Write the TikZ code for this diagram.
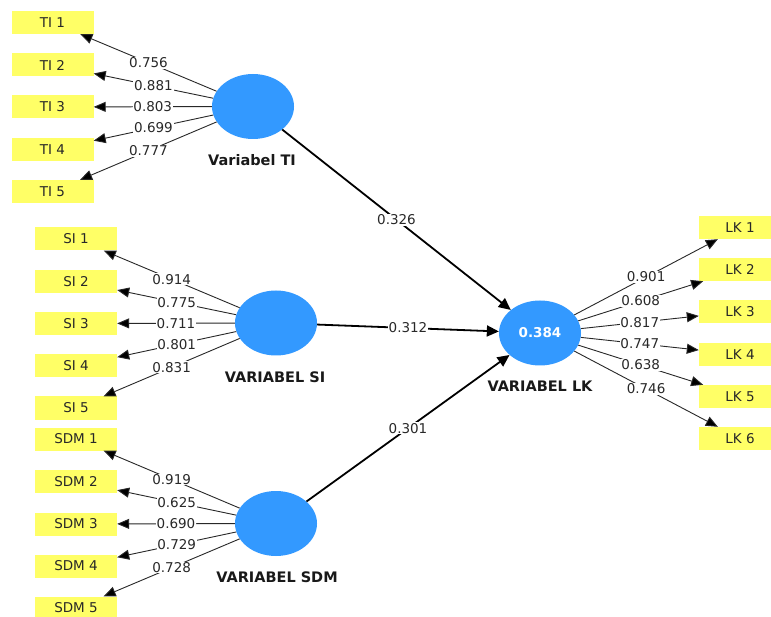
\documentclass[tikz,border=0pt]{standalone}
\usepackage{fontspec}
\setmainfont{DejaVu Sans}
\usetikzlibrary{shapes.geometric,arrows.meta}
\definecolor{latblue}{RGB}{51,153,255}
\definecolor{indyel}{RGB}{255,255,102}
\definecolor{txt}{RGB}{40,40,40}
\begin{document}
\begin{tikzpicture}[x=1pt,y=-1pt,
  ind/.style={rectangle, fill=indyel, minimum width=82pt, minimum height=23pt, inner sep=0pt, font=\fontsize{13.5}{15}\selectfont, text=txt},
  lat/.style={ellipse, fill=latblue, minimum width=82pt, minimum height=65pt, inner sep=0pt},
  latlbl/.style={font=\bfseries\fontsize{14.5}{16}\selectfont, text=black!90},
  load/.style={draw=txt, line width=0.9pt, -{Triangle[length=12pt,width=10pt,fill=black]}},
  struct/.style={draw=black, line width=1.8pt, -{Triangle[length=12pt,width=11pt]}},
  wlbl/.style={fill=white, inner sep=0.8pt, font=\fontsize{13.5}{15}\selectfont, text=txt}]
\fill[white] (0,0) rectangle (771,617);
\useasboundingbox (0,0) rectangle (771,617);
\clip (0,0) rectangle (771,617);

% latent variables
\node[lat] (ti) at (253,106.5) {};
\node[latlbl] (tilbl) at (252,160) {Variabel TI};
\node[lat] (si) at (276,323) {};
\node[latlbl] (silbl) at (275,377) {VARIABEL SI};
\node[lat] (sdm) at (276,523.5) {};
\node[latlbl] (sdmlbl) at (277,577) {VARIABEL SDM};
\node[lat, font=\bfseries\fontsize{13.5}{15}\selectfont, text=white] (lk) at (540,333) {0.384};
\node[latlbl] (lklbl) at (540,386) {VARIABEL LK};

% TI indicators
\node[ind] (ti1) at (52.5,22.5) {TI 1};
\node[ind] (ti2) at (52.5,65) {TI 2};
\node[ind] (ti3) at (52.5,107) {TI 3};
\node[ind] (ti4) at (52.5,149.5) {TI 4};
\node[ind] (ti5) at (52.5,191.5) {TI 5};
% SI indicators
\node[ind] (si1) at (76,239) {SI 1};
\node[ind] (si2) at (76,281.5) {SI 2};
\node[ind] (si3) at (76,323.5) {SI 3};
\node[ind] (si4) at (76,366) {SI 4};
\node[ind] (si5) at (76,408) {SI 5};
% SDM indicators
\node[ind] (sdm1) at (76,439) {SDM 1};
\node[ind] (sdm2) at (76,481.5) {SDM 2};
\node[ind] (sdm3) at (76,524) {SDM 3};
\node[ind] (sdm4) at (76,566) {SDM 4};
\node[ind] (sdm5) at (76,608) {SDM 5};
% LK indicators
\node[ind] (lk1) at (740,227.5) {LK 1};
\node[ind] (lk2) at (740,269.5) {LK 2};
\node[ind] (lk3) at (740,311.5) {LK 3};
\node[ind] (lk4) at (740,354.5) {LK 4};
\node[ind] (lk5) at (740,396.5) {LK 5};
\node[ind] (lk6) at (740,438.5) {LK 6};

% loadings
\draw[load] (ti) -- node[wlbl]{0.756} (ti1);
\draw[load] (ti) -- node[wlbl]{0.881} (ti2);
\draw[load] (ti) -- node[wlbl]{0.803} (ti3);
\draw[load] (ti) -- node[wlbl]{0.699} (ti4);
\draw[load] (ti) -- node[wlbl]{0.777} (ti5);

\draw[load] (si) -- node[wlbl]{0.914} (si1);
\draw[load] (si) -- node[wlbl]{0.775} (si2);
\draw[load] (si) -- node[wlbl]{0.711} (si3);
\draw[load] (si) -- node[wlbl]{0.801} (si4);
\draw[load] (si) -- node[wlbl]{0.831} (si5);

\draw[load] (sdm) -- node[wlbl]{0.919} (sdm1);
\draw[load] (sdm) -- node[wlbl]{0.625} (sdm2);
\draw[load] (sdm) -- node[wlbl]{0.690} (sdm3);
\draw[load] (sdm) -- node[wlbl]{0.729} (sdm4);
\draw[load] (sdm) -- node[wlbl]{0.728} (sdm5);

\draw[load] (lk) -- node[wlbl]{0.901} (lk1);
\draw[load] (lk) -- node[wlbl]{0.608} (lk2);
\draw[load] (lk) -- node[wlbl]{0.817} (lk3);
\draw[load] (lk) -- node[wlbl]{0.747} (lk4);
\draw[load] (lk) -- node[wlbl]{0.638} (lk5);
\draw[load] (lk) -- node[wlbl]{0.746} (lk6);

% structural paths
\draw[struct] (ti) -- node[wlbl]{0.326} (lk);
\draw[struct] (si) -- node[wlbl]{0.312} (lk);
\draw[struct] (sdm) -- node[wlbl]{0.301} (lk);
\end{tikzpicture}
\end{document}
